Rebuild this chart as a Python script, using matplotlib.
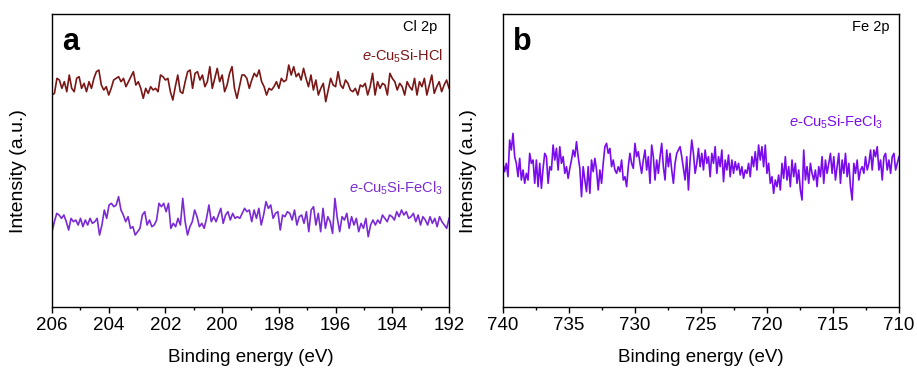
import numpy as np
import matplotlib
matplotlib.use("Agg")
import matplotlib.pyplot as plt
from matplotlib.ticker import MultipleLocator

plt.rcParams['font.family'] = ['Liberation Sans', 'DejaVu Sans']
plt.rcParams['mathtext.fontset'] = 'custom'
plt.rcParams['mathtext.rm'] = 'Liberation Sans'
plt.rcParams['mathtext.it'] = 'Liberation Sans:italic'

# ---------------- data (a.u.) ----------------
# Cl 2p, 206 -> 192 eV
cl_hcl = [80, 85, 130, 125, 100, 120, 90, 140, 100, 90, 130, 135, 100, 115, 90, 120, 100, 130, 150, 155,
          110, 95, 105, 80, 100, 125, 130, 135, 120, 130, 105, 120, 135, 150, 110, 120, 100, 70, 100, 85,
          105, 95, 100, 90, 140, 135, 125, 130, 90, 65, 105, 140, 90, 85, 120, 150, 155, 100, 145, 150,
          125, 140, 105, 120, 165, 100, 130, 160, 120, 140, 90, 110, 145, 165, 100, 70, 105, 140,
          140, 130, 100, 125, 145, 135, 155, 120, 105, 80, 100, 95, 105, 120, 100, 130, 120, 125, 170, 140,
          165, 135, 145, 125, 160, 130, 105, 140, 95, 125, 80, 100, 115, 60, 95, 130, 110, 105, 150, 110,
          100, 125, 115, 95, 90, 100, 80, 110, 105, 115, 80, 105, 145, 80, 120, 100, 115, 110, 80, 145,
          130, 120, 95, 115, 105, 80, 120, 105, 95, 130, 80, 120, 105, 130, 80, 110, 140, 85, 105, 120,
          90, 110, 125, 100]
cl_fecl3 = [60, 90, 115, 110, 100, 110, 90, 65, 100, 90, 95, 80, 100, 75, 95, 80, 100, 85, 90, 100,
            50, 80, 125, 100, 140, 145, 135, 140, 165, 125, 110, 90, 105, 70, 75, 50, 60, 70, 110, 120,
            80, 95, 75, 80, 95, 145, 135, 145, 120, 145, 70, 85, 75, 100, 80, 160, 90, 50, 75, 90,
            125, 105, 75, 85, 70, 100, 140, 90, 105, 90, 110, 130, 85, 110, 120, 95, 115, 100, 105, 100,
            115, 130, 120, 125,
            90, 125, 100, 130, 80, 110, 150, 130, 140, 100, 115, 120, 65, 110, 105, 120, 115, 95, 125, 80,
            105, 110, 85, 120, 60, 125, 135, 80, 115, 60, 130, 70, 105, 90, 55, 160, 100, 60, 105, 95,
            115, 70, 105, 80, 100, 60, 85, 70, 100, 45, 80, 95, 80, 95, 85, 110, 100, 90, 110, 105,
            95, 120, 105, 125, 110, 120, 100, 105, 115, 90, 110, 80, 105, 95, 80, 105, 85, 100, 75, 105,
            90, 80, 70, 100]

# Fe 2p, 740 -> 710 eV
fe_fecl3 = [170, 145, 170, 130, 240, 210, 260, 190, 170, 130, 185, 120, 150, 110, 140, 120, 200, 170, 180, 110,
            180, 100, 170, 95, 155, 200, 190, 110, 160, 150, 225, 180, 215, 150, 220, 170, 190, 140, 160, 125,
            155, 180, 210, 190, 235, 190, 155, 70, 160, 120, 85, 160, 80, 180, 145, 185, 150, 90, 150, 110,
            170, 220, 230, 200, 215, 160, 180, 150, 140, 160, 145, 180, 120, 130, 100, 160, 200, 170, 155, 230,
            190, 205, 170, 140, 180, 210, 150, 190, 110, 225, 190, 120, 180, 140, 190, 230, 160, 120, 210, 160,
            200, 150, 110, 170, 200, 210, 220, 190, 155, 120, 190, 90, 180, 240, 200, 140, 170,
            215, 160, 200, 150, 210, 170, 190, 130, 200, 170, 220, 140, 190, 160, 210, 115, 180, 150, 195, 130,
            180, 140, 175, 150, 170, 135, 160, 125, 150, 140, 170, 130, 190, 160, 205, 150, 225, 180, 220, 160,
            225, 140, 170, 110, 130, 80, 120, 100, 135, 90, 170, 125, 190, 120, 160, 100, 180, 130, 170, 110,
            150, 90, 60, 210, 120, 160, 110, 170, 140, 120, 150, 100, 160, 130, 190, 110, 180, 140, 170, 200,
            140, 190, 120, 160, 200, 110, 180, 140, 200, 130, 170, 100, 60, 170, 140, 180, 120, 150, 160, 140,
            190, 150, 170, 210, 150, 210, 190, 220, 150, 180, 120, 190, 200, 150, 180, 140, 190, 200, 150, 170,
            190]

cl_range = (206, 192)
fe_range = (740, 710)

c_hcl = '#7a1616'
c_fe_a = '#7b2bd4'
c_fe_b = '#7a0cec'

fig = plt.figure(figsize=(9.17, 3.69), dpi=100)
ax1 = fig.add_axes([0.0567, 0.168, 0.433, 0.794])
ax2 = fig.add_axes([0.5485, 0.168, 0.4318, 0.794])


def style(ax, xr, major, minor, ylab_x):
    ax.set_xlim(*xr)
    ax.set_ylim(0, 879)
    ax.xaxis.set_major_locator(MultipleLocator(major))
    ax.xaxis.set_minor_locator(MultipleLocator(minor))
    ax.tick_params(axis='x', which='both', direction='out', top=False, labelsize=13.5, pad=3)
    ax.tick_params(axis='x', which='major', length=4.5, width=1)
    ax.tick_params(axis='x', which='minor', length=2.5, width=1)
    ax.set_yticks([])
    ax.set_xlabel('Binding energy (eV)', fontsize=13.5)
    ax.xaxis.set_label_coords(0.5, -0.145)
    ax.set_ylabel('Intensity (a.u.)', fontsize=14)
    ax.yaxis.set_label_coords(ylab_x, 0.465)
    for s in ax.spines.values():
        s.set_linewidth(1.0)


# panel a
x = np.linspace(cl_range[0], cl_range[1], len(cl_hcl))
ax1.plot(x, np.array(cl_hcl) + 556, color=c_hcl, lw=1.2)
x = np.linspace(cl_range[0], cl_range[1], len(cl_fecl3))
ax1.plot(x, np.array(cl_fecl3) + 166, color=c_fe_a, lw=1.2)
style(ax1, cl_range, 2, 1, -0.063)
ax1.text(0.025, 0.877, 'a', transform=ax1.transAxes, fontsize=22, fontweight='bold', va='baseline', ha='left')
ax1.text(0.97, 0.955, 'Cl 2p', transform=ax1.transAxes, fontsize=10.5, ha='right', va='center')
ax1.text(0.985, 0.857, '$e$-Cu$_5$Si-HCl', transform=ax1.transAxes, fontsize=10.5,
         color=c_hcl, ha='right', va='center')
ax1.text(0.985, 0.405, '$e$-Cu$_5$Si-FeCl$_3$', transform=ax1.transAxes, fontsize=10.5,
         color=c_fe_a, ha='right', va='center')

# panel b
x = np.linspace(fe_range[0], fe_range[1], len(fe_fecl3))
ax2.plot(x, np.array(fe_fecl3) + 261, color=c_fe_b, lw=1.2)
style(ax2, fe_range, 5, 2.5, -0.066)
ax2.text(0.025, 0.877, 'b', transform=ax2.transAxes, fontsize=22, fontweight='bold', va='baseline', ha='left')
ax2.text(0.975, 0.955, 'Fe 2p', transform=ax2.transAxes, fontsize=10.5, ha='right', va='center')
ax2.text(0.96, 0.632, '$e$-Cu$_5$Si-FeCl$_3$', transform=ax2.transAxes, fontsize=10.5,
         color=c_fe_b, ha='right', va='center')

fig.savefig('out.png', dpi=100)
